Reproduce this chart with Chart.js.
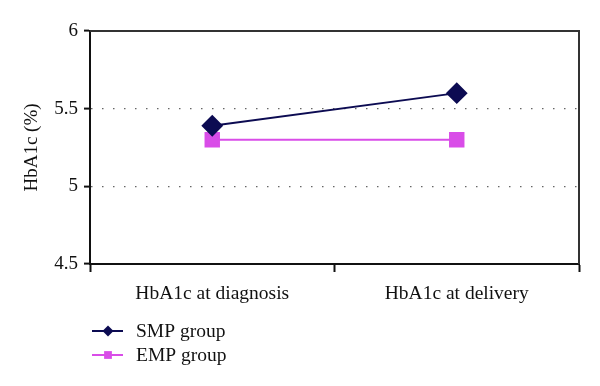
<!DOCTYPE html>
<html>
<head>
<meta charset="utf-8">
<script src="https://cdn.jsdelivr.net/npm/chart.js@4/dist/chart.umd.min.js"></script>
<style>
  html, body { margin: 0; padding: 0; background: #fff; }
  #wrap { width: 600px; height: 386px; position: relative; }
</style>
</head>
<body>
<div id="wrap"><canvas id="hba1cChart"></canvas></div>
<script>
const categories = ['HbA1c at diagnosis', 'HbA1c at delivery'];
const smpValues = [5.39, 5.6];
const empValues = [5.3, 5.3];
const seriesNames = ['SMP group', 'EMP group'];
const yTicks = [4.5, 5, 5.5, 6];

const FONT = "'Liberation Serif', 'DejaVu Serif', serif";
const navy = '#0c0b52';
const magenta = '#d94de8';

// box on top and right of plot + legend under the axis
const framePlugin = {
  id: 'frame',
  afterDraw(chart) {
    const { ctx, chartArea: a } = chart;
    ctx.save();
    ctx.strokeStyle = '#333';
    ctx.lineWidth = 2;
    ctx.beginPath();
    ctx.moveTo(a.left, a.top);
    ctx.lineTo(a.right, a.top);
    ctx.lineTo(a.right, a.bottom);
    ctx.stroke();

    // legend
    chart.data.datasets.forEach((ds, i) => {
      const y = 331 + i * 24;
      ctx.strokeStyle = ds.borderColor;
      ctx.lineWidth = 2;
      ctx.beginPath();
      ctx.moveTo(92, y);
      ctx.lineTo(123, y);
      ctx.stroke();
      ctx.fillStyle = ds.pointBackgroundColor;
      ctx.strokeStyle = ds.pointBackgroundColor;
      Chart.helpers.drawPoint(ctx, { pointStyle: ds.pointStyle, radius: 5.5, rotation: 0, borderWidth: 0 }, 108, y);
      ctx.fillStyle = '#111';
      ctx.font = '19.5px ' + FONT;
      ctx.textBaseline = 'middle';
      ctx.textAlign = 'left';
      ctx.fillText(ds.label, 136, y + 1);
    });
    ctx.restore();
  }
};

const ctx = document.getElementById('hba1cChart').getContext('2d');
new Chart(ctx, {
  type: 'line',
  data: {
    labels: categories,
    datasets: [
      {
        label: seriesNames[0],
        data: smpValues,
        borderColor: navy,
        backgroundColor: navy,
        pointBackgroundColor: navy,
        pointBorderColor: navy,
        borderWidth: 2,
        pointStyle: 'rectRot',
        pointRadius: 9.5,
        pointHoverRadius: 9.5
      },
      {
        label: seriesNames[1],
        data: empValues,
        borderColor: magenta,
        backgroundColor: magenta,
        pointBackgroundColor: magenta,
        pointBorderColor: magenta,
        borderWidth: 2,
        pointStyle: 'rect',
        pointRadius: 9.5,
        pointHoverRadius: 9.5
      }
    ]
  },
  options: {
    responsive: true,
    maintainAspectRatio: false,
    animation: false,
    events: [],
    layout: { padding: { top: 31, right: 21, left: 0, bottom: 0 } },
    plugins: {
      legend: { display: false },
      title: { display: false },
      tooltip: { enabled: false }
    },
    scales: {
      x: {
        type: 'category',
        offset: true,
        grid: {
          offset: true,
          drawOnChartArea: false,
          drawTicks: true,
          tickLength: 8,
          tickColor: '#111',
          tickWidth: 2
        },
        border: { color: '#111', width: 2 },
        ticks: {
          color: '#111',
          padding: 10,
          font: { family: FONT, size: 19.5 }
        },
        afterFit(scale) { scale.height = 122; }
      },
      y: {
        min: 4.5,
        max: 6,
        afterBuildTicks(scale) { scale.ticks = yTicks.map(v => ({ value: v })); },
        grid: {
          color: c => (c.tick && (c.tick.value === 5 || c.tick.value === 5.5)) ? '#666' : 'rgba(0,0,0,0)',
          lineWidth: 1.2,
          drawTicks: true,
          tickLength: 6,
          tickColor: '#111',
          tickWidth: 2
        },
        border: { color: '#111', width: 2, dash: [1.5, 9.5] },
        ticks: {
          color: '#111',
          padding: 6,
          font: { family: FONT, size: 19 },
          callback: v => String(v)
        },
        title: {
          display: true,
          text: 'HbA1c (%)',
          color: '#111',
          font: { family: FONT, size: 19 },
          padding: { top: 21, bottom: 0 }
        },
        afterFit(scale) { scale.width = 90; }
      }
    }
  },
  plugins: [framePlugin]
});
</script>
</body>
</html>
